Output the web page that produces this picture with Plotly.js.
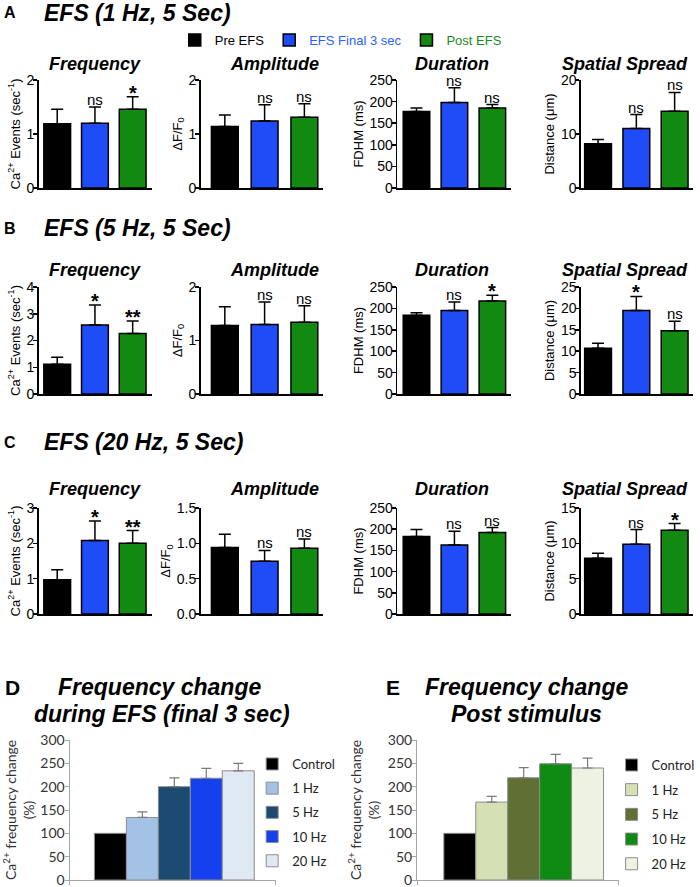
<!DOCTYPE html>
<html>
<head>
<meta charset="utf-8">
<script src="https://cdn.plot.ly/plotly-3.0.1.min.js"></script>
<style>
  body { margin: 0; background: #fff; }
  #chart { width: 700px; height: 887px; }
</style>
</head>
<body>
<div id="chart"></div>
<script>
const W = 700, H = 887;
const ARIAL = '"Liberation Sans", Arial, sans-serif';
const CALIBRI = 'Lato, "Open Sans", sans-serif';

// panels A-C: groups and measures
const groups = ['Pre EFS', 'EFS Final 3 sec', 'Post EFS'];
const groupColors = ['#000000', '#1f4cf7', '#128a12'];
const legendTextColors = ['#000000', '#2a62ff', '#1a8c1a'];
const measures = ['Frequency', 'Amplitude', 'Duration', 'Spatial Spread'];
const yTitles = ['Ca<sup>2+</sup> Events (sec<sup>-1</sup>)', 'ΔF/F<sub>0</sub>', 'FDHM (ms)', 'Distance (μm)'];

// A: EFS 1 Hz
const mean1Hz = [[1.19, 1.20, 1.46], [1.14, 1.24, 1.31], [177, 198, 185], [8.2, 11.0, 14.2]];
const err1Hz = [[0.27, 0.30, 0.23], [0.21, 0.30, 0.25], [8, 34, 8], [0.8, 2.6, 3.5]];
const sig1Hz = [['', 'ns', '*'], ['', 'ns', 'ns'], ['', 'ns', 'ns'], ['', 'ns', 'ns']];
const yMax1Hz = [2, 2, 250, 20];
const yStep1Hz = [1, 1, 50, 10];

// B: EFS 5 Hz
const mean5Hz = [[1.11, 2.58, 2.26], [1.28, 1.30, 1.34], [184, 195, 217], [10.7, 19.5, 14.8]];
const err5Hz = [[0.26, 0.75, 0.47], [0.35, 0.42, 0.31], [6, 20, 14], [1.15, 3.3, 2.2]];
const sig5Hz = [['', '*', '**'], ['', 'ns', 'ns'], ['', 'ns', '*'], ['', '*', 'ns']];
const yMax5Hz = [4, 2, 250, 25];
const yStep5Hz = [1, 1, 50, 5];

// C: EFS 20 Hz
const mean20Hz = [[0.97, 2.08, 2.0], [0.94, 0.745, 0.93], [183, 163, 192], [7.9, 9.86, 11.85]];
const err20Hz = [[0.28, 0.55, 0.36], [0.19, 0.155, 0.13], [16, 32, 12], [0.7, 2.08, 0.95]];
const sig20Hz = [['', '*', '**'], ['', 'ns', 'ns'], ['', 'ns', 'ns'], ['', 'ns', '*']];
const yMax20Hz = [3, 1.5, 250, 15];
const yStep20Hz = [1, 0.5, 50, 5];

// D / E: frequency change (%)
const stimLevels = ['Control', '1 Hz', '5 Hz', '10 Hz', '20 Hz'];
const changeDuring = [100, 134, 200, 218, 234];
const changeDuringErr = [null, 12, 19, 21, 16];
const changePost = [100, 167, 219, 249, 240];
const changePostErr = [null, 12, 22, 20, 21];
const duringColors = ['#000000', '#a4c2e6', '#1d4a70', '#1440ee', '#dfe8f3'];
const postColors = ['#000000', '#d5e0b5', '#5f7035', '#0f8a12', '#eef2e2'];

const rows = [
  {letter: 'A', title: 'EFS (1 Hz, 5 Sec)', means: mean1Hz, errs: err1Hz, sigs: sig1Hz, yMax: yMax1Hz, yStep: yStep1Hz, top: 80, bottom: 188, headY: 13, subY: 64},
  {letter: 'B', title: 'EFS (5 Hz, 5 Sec)', means: mean5Hz, errs: err5Hz, sigs: sig5Hz, yMax: yMax5Hz, yStep: yStep5Hz, top: 287, bottom: 394, headY: 228, subY: 270},
  {letter: 'C', title: 'EFS (20 Hz, 5 Sec)', means: mean20Hz, errs: err20Hz, sigs: sig20Hz, yMax: yMax20Hz, yStep: yStep20Hz, top: 508, bottom: 614, headY: 442, subY: 489}
];

// column placement (px)
const colX = [[39, 153], [202, 325], [400, 515], [585, 698]];
const colRange = [[-0.49, 2.51], [-0.61, 2.46], [-0.51, 2.5], [-0.45, 2.48]];
const colBarWidth = [0.71, 0.675, 0.7, 0.7];
const colTitleX = [96, 276, 455, 629];

const px = v => v / W;
const py = v => 1 - v / H;
const axId = (a, n) => n === 1 ? a : a + n;

const traces = [];
const annotations = [];
const layout = {
  width: W, height: H,
  margin: {l: 0, r: 0, t: 0, b: 0},
  barmode: 'overlay',
  paper_bgcolor: '#ffffff',
  plot_bgcolor: '#ffffff',
  font: {family: ARIAL, color: '#000', size: 13},
  showlegend: true,
  legend: {
    orientation: 'h', x: px(176), y: py(40), xanchor: 'left', yanchor: 'middle',
    font: {family: ARIAL, size: 13}, bgcolor: 'rgba(0,0,0,0)'
  },
  legend2: {
    x: px(254), y: py(749), xanchor: 'left', yanchor: 'top', traceorder: 'grouped', tracegroupgap: 4.3,
    font: {family: CALIBRI, size: 13, color: '#222'}, bgcolor: 'rgba(0,0,0,0)'
  },
  legend3: {
    x: px(616), y: py(750), xanchor: 'left', yanchor: 'top', traceorder: 'grouped', tracegroupgap: 4.8,
    font: {family: CALIBRI, size: 13, color: '#222'}, bgcolor: 'rgba(0,0,0,0)'
  },
  annotations: annotations,
  hovermode: 'closest'
};

let n = 0;
rows.forEach(row => {
  annotations.push({xref: 'paper', yref: 'paper', x: px(2), y: py(row.headY), xanchor: 'left', yanchor: 'middle',
    text: row.letter, showarrow: false, font: {size: 16, weight: 'bold'}});
  annotations.push({xref: 'paper', yref: 'paper', x: px(42), y: py(row.headY), xanchor: 'left', yanchor: 'middle',
    text: row.title, showarrow: false, font: {size: 23, weight: 'bold', style: 'italic'}});

  measures.forEach((m, c) => {
    n++;
    const xa = axId('x', n), ya = axId('y', n);
    const key = n === 1 ? '' : n;

    groups.forEach((g, i) => {
      traces.push({
        type: 'bar', x: [g], y: [row.means[c][i]], xaxis: xa, yaxis: ya,
        name: `<span style="color:${legendTextColors[i]}">${g}</span>`,
        showlegend: n === 1, legend: 'legend',
        width: colBarWidth[c],
        marker: {color: groupColors[i], line: {color: '#000', width: 1.5}},
        error_y: {type: 'data', symmetric: false, array: [row.errs[c][i]], arrayminus: [0],
          color: '#000', thickness: 1.5, width: 6},
        hoverinfo: 'y'
      });
      const s = row.sigs[c][i];
      if (s) {
        const star = s.includes('*');
        annotations.push({xref: xa, yref: ya, x: i, y: row.means[c][i] + row.errs[c][i],
          text: s, showarrow: false, yanchor: 'bottom', yshift: star ? -9 : -3,
          font: {size: star ? 20 : 15, weight: star ? 'bold' : 'normal'}});
      }
    });

    annotations.push({xref: 'paper', yref: 'paper', x: px(colTitleX[c]), y: py(row.subY), xanchor: 'center', yanchor: 'middle',
      text: m, showarrow: false, font: {size: 18, weight: 'bold', style: 'italic'}});

    layout['xaxis' + key] = {
      domain: [px(colX[c][0]), px(colX[c][1])], anchor: ya, type: 'category',
      range: colRange[c], showline: true, linecolor: '#000', linewidth: 1.5,
      showticklabels: false, ticks: '', showgrid: false, zeroline: false, fixedrange: true
    };
    layout['yaxis' + key] = {
      domain: [py(row.bottom), py(row.top)], anchor: xa,
      range: [0, row.yMax[c]], dtick: row.yStep[c], tick0: 0,
      tickformat: row.yStep[c] < 1 ? '.1f' : '',
      showline: true, linecolor: '#000', linewidth: 1.5,
      ticks: 'outside', ticklen: 4, tickwidth: 1.5, tickcolor: '#000',
      ticklabelstandoff: -4, ticklabeloverflow: 'allow',
      tickfont: {size: 14}, showgrid: false, zeroline: false, fixedrange: true,
      title: {text: yTitles[c], font: {size: 13}, standoff: 3}
    };
  });
});

// D and E panels
const bottomPanels = [
  {letter: 'D', lx: 3, lines: ['Frequency change', 'during EFS (final 3 sec)'], cx: [161, 163],
   values: changeDuring, errs: changeDuringErr, colors: duringColors, x: [70, 278], range: [-1.28, 5.18], legend: 'legend2'},
  {letter: 'E', lx: 387, lines: ['Frequency change', 'Post stimulus'], cx: [530, 530],
   values: changePost, errs: changePostErr, colors: postColors, x: [420, 623], range: [-1.34, 4.97], legend: 'legend3'}
];

bottomPanels.forEach(p => {
  n++;
  const xa = axId('x', n), ya = axId('y', n);
  annotations.push({xref: 'paper', yref: 'paper', x: px(p.lx), y: py(687), xanchor: 'left', yanchor: 'middle',
    text: p.letter, showarrow: false, font: {size: 21, weight: 'bold'}});
  annotations.push({xref: 'paper', yref: 'paper', x: px(p.cx[0]), y: py(687), xanchor: 'center', yanchor: 'middle',
    text: p.lines[0], showarrow: false, font: {size: 23, weight: 'bold', style: 'italic'}});
  annotations.push({xref: 'paper', yref: 'paper', x: px(p.cx[1]), y: py(714), xanchor: 'center', yanchor: 'middle',
    text: p.lines[1], showarrow: false, font: {size: 23, weight: 'bold', style: 'italic'}});

  stimLevels.forEach((s, i) => {
    traces.push({
      type: 'bar', x: [s], y: [p.values[i]], xaxis: xa, yaxis: ya,
      name: s, legend: p.legend, legendgroup: p.letter + i, showlegend: true,
      width: 1,
      marker: {color: p.colors[i], line: {color: '#8c8c8c', width: 1}},
      error_y: {visible: p.errs[i] != null, type: 'data', symmetric: false, array: [p.errs[i]], arrayminus: [0],
        color: '#7a7a7a', thickness: 1.2, width: 5},
      hoverinfo: 'y'
    });
  });

  layout['xaxis' + n] = {
    domain: [px(p.x[0]), px(p.x[1])], anchor: ya, type: 'category', range: p.range,
    showline: true, linecolor: '#a6a6a6', linewidth: 1,
    tickmode: 'array', tickvals: [p.range[0] + 0.01, p.range[1] - 0.01], ticktext: ['', ''],
    ticks: 'outside', ticklen: 4, tickcolor: '#a6a6a6',
    showgrid: false, zeroline: false, fixedrange: true
  };
  layout['yaxis' + n] = {
    domain: [py(880), py(740)], anchor: xa, range: [0, 300], dtick: 50, tick0: 0,
    showline: true, linecolor: '#a6a6a6', linewidth: 1,
    ticks: 'outside', ticklen: 4, tickcolor: '#a6a6a6',
    ticklabelstandoff: -3, ticklabeloverflow: 'allow',
    tickfont: {family: CALIBRI, size: 14, color: '#333'},
    showgrid: false, zeroline: false, fixedrange: true,
    title: {text: 'Ca<sup>2+</sup> frequency change<br>(%)', font: {family: CALIBRI, size: 14, color: '#333'}, standoff: 4}
  };
});

Plotly.newPlot('chart', traces, layout, {displayModeBar: false, staticPlot: true});
</script>
</body>
</html>
